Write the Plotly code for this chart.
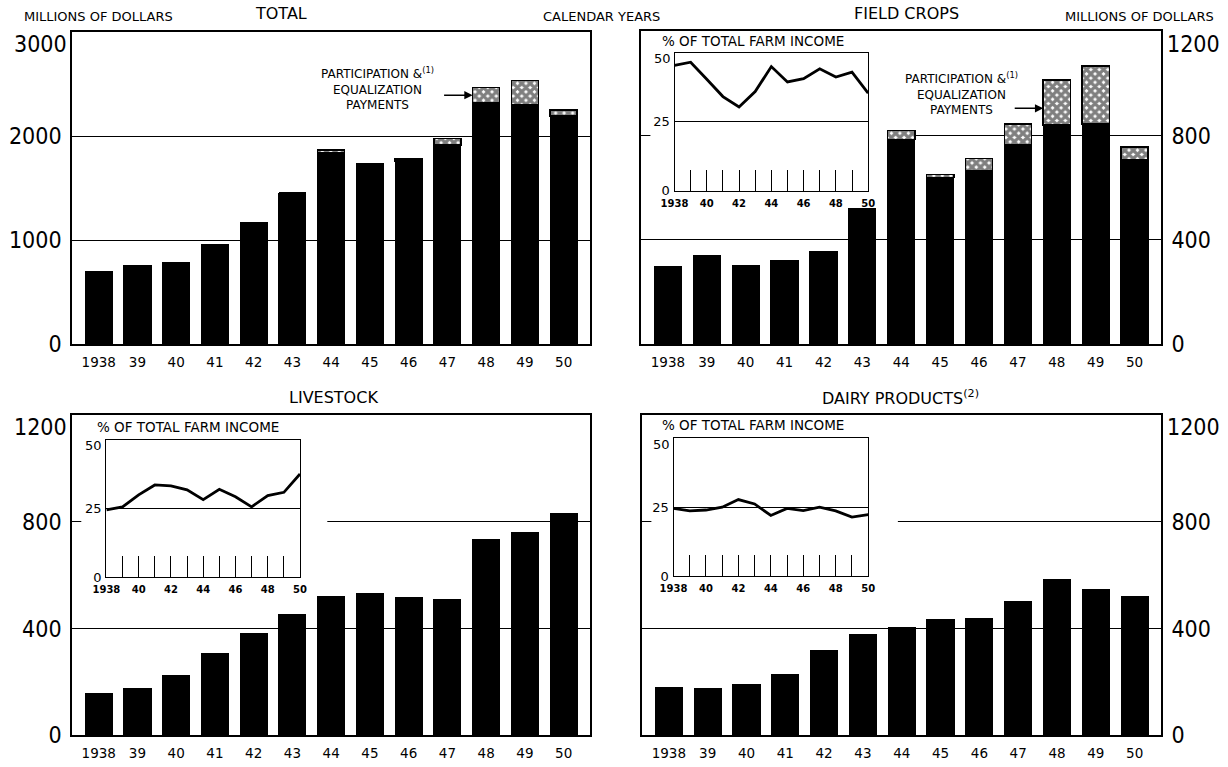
import plotly.graph_objects as go

W, H = 1228, 767

years_idx = list(range(13))
year_labels = ["1938", "39", "40", "41", "42", "43", "44", "45", "46", "47", "48", "49", "50"]
inset_years = list(range(1938, 1951))
inset_labels = ["1938", "", "40", "", "42", "", "44", "", "46", "", "48", "", "50"]

# Millions of dollars
total_base = [700, 755, 783, 953, 1170, 1453, 1840, 1725, 1764, 1915, 2321, 2302, 2198]
total_payments = [0, 0, 0, 0, 0, 0, 28, 11, 19, 66, 151, 236, 57]
field_base = [295, 339, 300, 320, 354, 520, 785, 640, 667, 764, 840, 844, 707]
field_payments = [0, 0, 0, 0, 0, 0, 35, 10, 46, 80, 173, 224, 49]
livestock = [158, 175, 225, 308, 380, 453, 519, 531, 516, 509, 734, 759, 830]
dairy = [180, 174, 191, 226, 316, 378, 405, 434, 439, 500, 585, 547, 519]

# % of total farm income
field_pct = [45.5, 46.7, 40.5, 34.2, 30.4, 36.0, 45.1, 39.5, 40.7, 44.3, 41.3, 43.1, 35.4]
livestock_pct = [24.6, 25.7, 30.1, 33.7, 33.4, 31.9, 28.3, 32.1, 29.4, 25.7, 29.8, 31.0, 37.7]
dairy_pct = [24.6, 23.7, 24.0, 25.0, 27.8, 26.2, 22.0, 24.6, 23.8, 25.0, 23.7, 21.4, 22.3]

FONT = "DejaVu Sans, Verdana, sans-serif"
NUMF = "Liberation Sans Narrow, DejaVu Sans Condensed, Liberation Sans, Arial, sans-serif"


def px_x(a, b):
    return [a / W, b / W]


def px_y(top, bottom):
    return [1 - bottom / H, 1 - top / H]


fig = go.Figure()

bar_kw = dict(marker=dict(color="black", line=dict(color="black", width=1)), width=0.7,
              showlegend=False, hoverinfo="skip")
pat_kw = dict(marker=dict(color="white", line=dict(color="black", width=1.5),
                          pattern=dict(shape="x", fgcolor="black", bgcolor="white", size=6, solidity=0.78)),
              width=0.7, showlegend=False, hoverinfo="skip")

fig.add_trace(go.Bar(x=years_idx, y=total_base, xaxis="x", yaxis="y", **bar_kw))
fig.add_trace(go.Bar(x=years_idx, y=total_payments, xaxis="x", yaxis="y", **pat_kw))
fig.add_trace(go.Bar(x=years_idx, y=field_base, xaxis="x2", yaxis="y2", **bar_kw))
fig.add_trace(go.Bar(x=years_idx, y=field_payments, xaxis="x2", yaxis="y2", **pat_kw))
fig.add_trace(go.Bar(x=years_idx, y=livestock, xaxis="x3", yaxis="y3", **bar_kw))
fig.add_trace(go.Bar(x=years_idx, y=dairy, xaxis="x4", yaxis="y4", **bar_kw))

line_kw = dict(mode="lines", line=dict(color="black", width=2.8), showlegend=False, hoverinfo="skip")
fig.add_trace(go.Scatter(x=inset_years, y=field_pct, xaxis="x5", yaxis="y5", **line_kw))
fig.add_trace(go.Scatter(x=inset_years, y=livestock_pct, xaxis="x6", yaxis="y6", **line_kw))
fig.add_trace(go.Scatter(x=inset_years, y=dairy_pct, xaxis="x7", yaxis="y7", **line_kw))


def main_x(dom, anchor):
    return dict(domain=dom, anchor=anchor, range=[-0.69, 12.68], tickmode="array",
                tickvals=years_idx, ticktext=year_labels, showgrid=False, zeroline=False,
                showline=True, mirror=True, linecolor="black", linewidth=1.6, ticks="",
                ticklabelstandoff=5, tickfont=dict(family=FONT, size=13.5, color="black"),
                fixedrange=True)


def main_y(dom, anchor, rng, vals, texts, side):
    return dict(domain=dom, anchor=anchor, range=rng, tickmode="array", tickvals=vals,
                ticktext=texts, side=side, showgrid=True, gridcolor="black", gridwidth=1.3,
                zeroline=False, showline=True, mirror=True, linecolor="black", linewidth=1.6,
                ticks="", ticklabelstandoff=4, tickfont=dict(family=NUMF, size=23, color="black"),
                fixedrange=True)


def inset_x(dom, anchor):
    return dict(domain=dom, anchor=anchor, range=[1938, 1950], tickmode="array",
                tickvals=inset_years, ticktext=inset_labels, ticks="inside", ticklen=21,
                tickwidth=1.2, tickcolor="black", showgrid=False, zeroline=False,
                showline=True, mirror=True, linecolor="black", linewidth=1.3,
                tickfont=dict(family=FONT, size=10, color="black", weight="bold"),
                ticklabelstandoff=3, fixedrange=True)


def inset_y(dom, anchor):
    return dict(domain=dom, anchor=anchor, range=[0, 50], tickmode="array",
                tickvals=[0, 25, 50], ticktext=["0", "25", ""], showgrid=True,
                gridcolor="black", gridwidth=1.3, zeroline=False, showline=True, mirror=True,
                linecolor="black", linewidth=1.3, ticks="", ticklabelstandoff=1,
                tickfont=dict(family=FONT, size=13, color="black"), fixedrange=True)


TLx, TLy = px_x(59, 586), px_y(33, 350)
TRx, TRy = px_x(638, 1167), px_y(32, 350)
BLx, BLy = px_x(59, 586), px_y(422, 748)
BRx, BRy = px_x(639, 1167), px_y(422, 748)

fig.update_layout(
    width=W, height=H, margin=dict(l=0, r=0, t=0, b=0),
    paper_bgcolor="white", plot_bgcolor="white", barmode="stack", bargap=0.3,
    font=dict(family=FONT, color="black"),
    xaxis=main_x(TLx, "y"),
    yaxis=main_y(TLy, "x", [0, 3000], [0, 1000, 2000, 3000], ["0", "1000", "2000", ""], "left"),
    xaxis2=main_x(TRx, "y2"),
    yaxis2=main_y(TRy, "x2", [0, 1200], [0, 400, 800, 1200], ["0", "400", "800", ""], "right"),
    xaxis3=main_x(BLx, "y3"),
    yaxis3=main_y(BLy, "x3", [0, 1200], [0, 400, 800, 1200], ["0", "400", "800", ""], "left"),
    xaxis4=main_x(BRx, "y4"),
    yaxis4=main_y(BRy, "x4", [0, 1200], [0, 400, 800, 1200], ["0", "400", "800", ""], "right"),
    xaxis5=inset_x(px_x(672, 869), "y5"),
    yaxis5=inset_y(px_y(54, 194), "x5"),
    xaxis6=inset_x(px_x(94, 291), "y6"),
    yaxis6=inset_y(px_y(448, 587), "x6"),
    xaxis7=inset_x(px_x(671, 869), "y7"),
    yaxis7=inset_y(px_y(446, 586), "x7"),
)

# white areas around the insets that interrupt the 800 gridline
for xr, yr in [("x2", "y2"), ("x3", "y3"), ("x4", "y4")]:
    fig.add_shape(type="rect", xref=xr, yref=yr, x0=-0.45, x1=5.9, y0=640, y1=1190,
                  fillcolor="white", line=dict(width=0), layer="between")

ann = []


def txt(x, y, text, size, xanchor="center", yanchor="middle", family=FONT):
    ann.append(dict(x=x / W, y=1 - y / H, xref="paper", yref="paper", text=text,
                    showarrow=False, xanchor=xanchor, yanchor=yanchor,
                    font=dict(family=family, size=size, color="black")))


txt(272, 14, "TOTAL", 16)
txt(908, 14, "FIELD CROPS", 16)
txt(325, 404, "LIVESTOCK", 16)
txt(902, 404, "DAIRY PRODUCTS<sup>(2)</sup>", 16)
txt(8, 17, "MILLIONS OF DOLLARS", 13, xanchor="left")
txt(536, 17, "CALENDAR YEARS", 13, xanchor="left")
txt(1223, 17, "MILLIONS OF DOLLARS", 13, xanchor="right")

# top tick labels that hang below the top border
txt(56, 30, "3000", 23, xanchor="right", yanchor="top", family=NUMF)
txt(1171, 29, "1200", 23, xanchor="left", yanchor="top", family=NUMF)
txt(56, 419, "1200", 23, xanchor="right", yanchor="top", family=NUMF)
txt(1171, 419, "1200", 23, xanchor="left", yanchor="top", family=NUMF)

# inset top labels (50) hanging at the top border
txt(670, 50, "50", 13, xanchor="right", yanchor="top")
txt(92, 444, "50", 13, xanchor="right", yanchor="top")
txt(669, 442, "50", 13, xanchor="right", yanchor="top")

# inset titles
txt(657, 42, "% OF TOTAL FARM INCOME", 13.5, xanchor="left")
txt(82, 434, "% OF TOTAL FARM INCOME", 13.5, xanchor="left")
txt(657, 432, "% OF TOTAL FARM INCOME", 13.5, xanchor="left")

# payments notes
ann.append(dict(x=7.2, y=2462, xref="x", yref="y", showarrow=False,
                text="PARTICIPATION &<sup>(1)</sup><br>EQUALIZATION<br>PAYMENTS",
                font=dict(family=FONT, size=12, color="black"), align="center"))
ann.append(dict(x=9.65, y=2396, xref="x", yref="y", text="", showarrow=True, ax=-30, ay=0,
                arrowhead=2, arrowsize=1.1, arrowwidth=1.5, arrowcolor="black", standoff=0))
ann.append(dict(x=7.56, y=961, xref="x2", yref="y2", showarrow=False,
                text="PARTICIPATION &<sup>(1)</sup><br>EQUALIZATION<br>PAYMENTS",
                font=dict(family=FONT, size=12, color="black"), align="center"))
ann.append(dict(x=9.65, y=905, xref="x2", yref="y2", text="", showarrow=True, ax=-30, ay=0,
                arrowhead=2, arrowsize=1.1, arrowwidth=1.5, arrowcolor="black", standoff=0))

fig.update_layout(annotations=ann)

fig.write_html("out.html", config={"displayModeBar": False},
               post_script="document.body.style.margin='0';document.body.style.overflow='hidden';")
